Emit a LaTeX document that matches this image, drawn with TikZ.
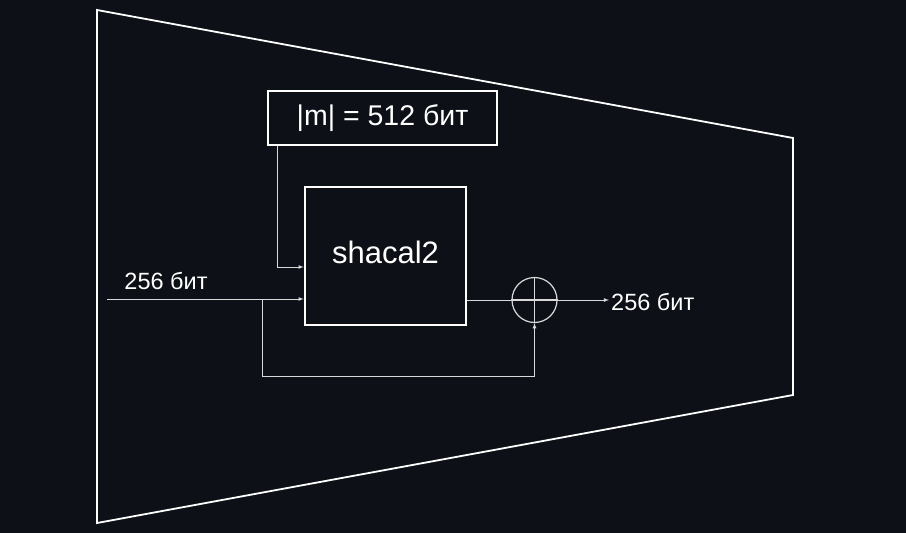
\documentclass[tikz,border=0pt]{standalone}
\usepackage{fontspec}
\setmainfont{Liberation Sans}
\usetikzlibrary{arrows}
\definecolor{bgdark}{HTML}{0D1117}
\tikzset{
  block/.style={draw=white,line width=2.6pt,text=white,inner sep=0pt},
  wire/.style={draw=white!85!black,line width=0.8pt},
  lbl/.style={text=white,font=\fontsize{23.5}{27}\selectfont}
}
\begin{document}
\begin{tikzpicture}[x=1pt,y=-1pt]
  \fill[bgdark] (0,0) rectangle (906,533);
  \useasboundingbox (0,0) rectangle (906,533);
  \draw[white,line width=1.8pt] (97,10) -- (793,138) -- (793,395) -- (97,523) -- cycle;
  \node[block,minimum width=229pt,minimum height=54pt,font=\fontsize{28.5}{32}\selectfont] (msg) at (382.5,118) {|m| = 512 бит};
  \node[block,minimum width=161pt,minimum height=138pt,font=\fontsize{31}{36}\selectfont] (shacal) at (385.5,256) {\raisebox{8pt}{shacal2}};
  \node[draw=white!85!black,line width=1.2pt,circle,minimum size=45pt,inner sep=0pt] (xor) at (534.5,300) {};
  \draw[white!85!black,line width=1.4pt] (xor.north) -- (xor.south) (xor.west) -- (xor.east);
  \coordinate (in) at (107,299);
  \coordinate (split) at (262,299);
  \node[lbl] (inlbl) at (166,281) {256 бит};
  \node[lbl,anchor=west,inner sep=2pt] (out) at (609,302) {256 бит};
  % inputs
  \draw[wire,-latex] (in) -- (in -| shacal.west);
  \draw[wire,-latex] ([xshift=11pt]msg.south west) |- ([yshift=-11pt]shacal.west);
  % feed-forward
  \draw[wire] (shacal.east |- xor) -- (xor.west);
  \draw[wire,-latex] (split) -- ++(0,77) -| (xor.south);
  \draw[wire,-latex] (xor.east) -- (xor.east -| out.west);
\end{tikzpicture}
\end{document}
